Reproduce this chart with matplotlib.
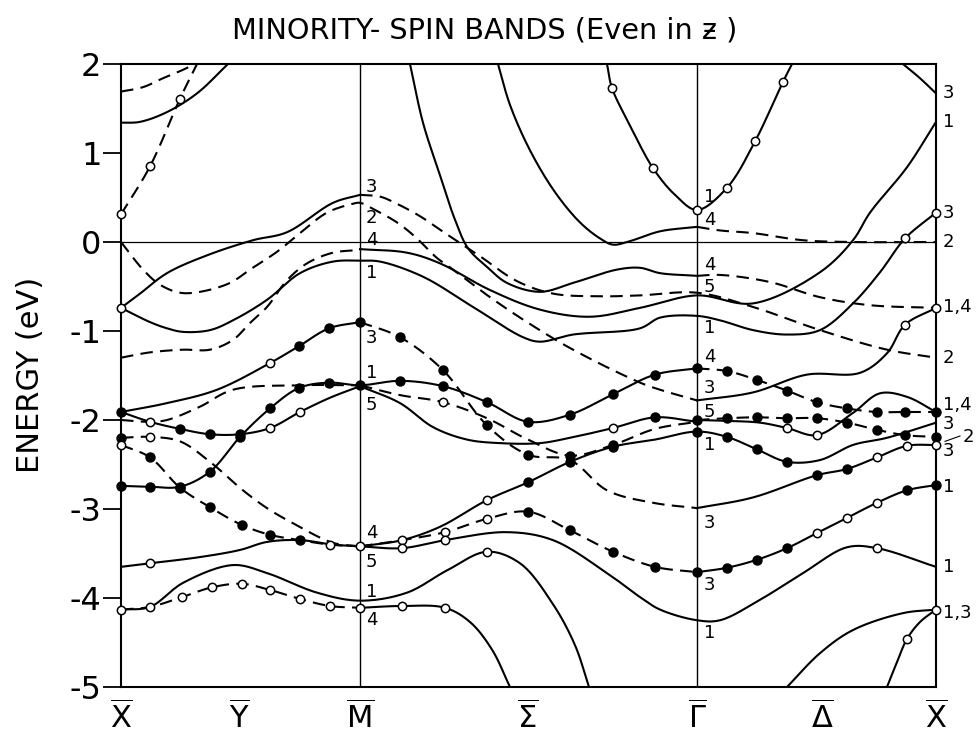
import numpy as np
import matplotlib
matplotlib.use("Agg")
import matplotlib.pyplot as plt

plt.rcParams["mathtext.fontset"] = "dejavusans"

# symmetry points along the path (arbitrary path-length units)
sym_k = [0.0, 1.18, 2.39, 4.07, 5.76, 7.01, 8.15]
sym_lab = [r"$\overline{\mathrm{X}}$", r"$\overline{\mathrm{Y}}$", r"$\overline{\mathrm{M}}$",
           r"$\overline{\Sigma}$", r"$\overline{\Gamma}$", r"$\overline{\Delta}$",
           r"$\overline{\mathrm{X}}$"]
k_M, k_G = 2.39, 5.76

# ---- bands (k, E in eV) ----
b01_k = [0, 0.22, 0.42, 0.61, 0.74]
b01_e = [1.69, 1.74, 1.84, 1.93, 2.0]
b02_k = [0, 0.19, 0.46, 0.76, 1.07]
b02_e = [1.34, 1.35, 1.46, 1.67, 2.0]
b03_k = [0, 0.29, 0.59, 0.76]
b03_e = [0.31, 0.85, 1.61, 2.0]
b04_k = [0, 0.19, 0.46, 0.86, 1.32, 1.66, 2.12, 2.39]
b04_e = [-0.74, -0.58, -0.35, -0.15, 0.02, 0.11, 0.44, 0.53]
b05_k = [2.39, 2.59, 2.74, 2.99, 3.24, 3.59, 3.96, 4.32, 4.79, 5.19, 5.76, 6.32, 6.99, 7.66, 8.15]
b05_e = [0.53, 0.51, 0.44, 0.29, 0.10, -0.16, -0.44, -0.58, -0.61, -0.60, -0.57, -0.73, -0.99, -1.21, -1.30]
b06_k = [0, 0.22, 0.39, 0.59, 0.79, 1.09, 1.29, 1.56, 1.79, 2.06, 2.32, 2.39, 2.54, 2.76, 2.94,
         3.16, 3.26, 3.69, 4.06, 4.52, 5.19, 5.39, 5.76]
b06_e = [0, -0.31, -0.48, -0.57, -0.56, -0.46, -0.31, -0.11, 0.10, 0.33, 0.43, 0.44, 0.36, 0.22, 0.06,
         -0.18, -0.26, -0.62, -0.90, -1.21, -1.58, -1.66, -1.78]
b07_k = [5.76, 6.32, 6.86, 7.39, 7.66, 7.84, 8.15]
b07_e = [-1.78, -1.69, -1.49, -1.47, -1.25, -0.93, -0.74]
b08_k = [0, 0.29, 0.46, 0.62, 0.89, 1.12, 1.46, 1.79, 2.12, 2.39, 2.59, 3.02, 3.52, 4.02, 4.19, 4.52,
         5.19, 5.39, 5.76, 5.99, 6.32, 6.66, 6.99, 7.32, 7.59, 7.84, 8.15]
b08_e = [-0.74, -0.90, -0.97, -1.01, -0.99, -0.88, -0.65, -0.35, -0.22, -0.21, -0.22, -0.39, -0.73,
         -1.07, -1.12, -1.04, -0.97, -0.85, -0.83, -0.88, -0.99, -1.04, -0.99, -0.69, -0.34, 0.04, 0.33]
b09_k = [0, 0.29, 0.62, 0.89, 1.12, 1.29, 1.46, 1.66, 1.86, 2.12, 2.39]
b09_e = [-1.30, -1.24, -1.21, -1.21, -1.10, -0.91, -0.73, -0.43, -0.24, -0.12, -0.09]
b10_k = [2.39, 2.86, 3.19, 3.69, 4.19, 4.69, 5.19, 5.76, 6.32, 6.99, 7.32, 7.49, 7.86, 8.15]
b10_e = [-0.08, -0.12, -0.24, -0.54, -0.76, -0.84, -0.74, -0.60, -0.69, -0.34, 0.02, 0.33, 0.84, 1.35]
b11_k = [2.89, 3.02, 3.19, 3.34, 3.47, 3.66, 3.86, 4.19, 4.52, 4.96, 5.19, 5.39, 5.76]
b11_e = [2.0, 1.34, 0.75, 0.25, -0.07, -0.28, -0.46, -0.56, -0.46, -0.31, -0.29, -0.35, -0.38]
b12_k = [5.76, 5.99, 6.49, 6.99, 7.49, 8.15]
b12_e = [-0.38, -0.37, -0.45, -0.62, -0.71, -0.74]
b13_k = [3.77, 3.89, 4.09, 4.34, 4.59, 4.79, 4.92, 5.09, 5.39, 5.76]
b13_e = [2.0, 1.54, 1.03, 0.56, 0.22, 0.04, -0.03, 0.01, 0.12, 0.17]
b14_k = [5.76, 5.99, 6.32, 6.82, 7.32, 8.15]
b14_e = [0.17, 0.13, 0.10, 0.02, 0.0, 0.0]
b15_k = [4.86, 4.91, 5.09, 5.32, 5.54, 5.76, 6.06, 6.34, 6.62, 6.71]
b15_e = [2.0, 1.73, 1.31, 0.83, 0.53, 0.36, 0.61, 1.13, 1.80, 2.0]
b16_k = [7.82, 7.99, 8.15]
b16_e = [2.0, 1.84, 1.67]
b17_k = [0, 0.46, 0.96, 1.49, 1.78, 2.08, 2.39]
b17_e = [-1.91, -1.81, -1.66, -1.36, -1.17, -0.97, -0.90]
b18_k = [2.39, 2.79, 3.22, 3.66, 4.07, 4.49, 4.86, 5.32, 5.76]
b18_e = [-0.90, -1.07, -1.44, -2.06, -2.39, -2.45, -2.79, -2.93, -2.99]
b19_k = [0, 0.29, 0.59, 0.89, 1.19, 1.49, 1.78, 2.08, 2.39, 2.79, 3.22, 3.66, 4.07, 4.49, 4.92, 5.34, 5.76]
b19_e = [-2.74, -2.75, -2.75, -2.58, -2.19, -1.87, -1.64, -1.58, -1.61, -1.56, -1.62, -1.80, -2.02,
         -1.94, -1.71, -1.49, -1.42]
b20_k = [5.76, 6.06, 6.36, 6.66, 6.96, 7.26, 7.56, 7.84, 8.15]
b20_e = [-1.42, -1.45, -1.55, -1.67, -1.80, -1.87, -1.91, -1.91, -1.91]
b21_k = [0, 0.29, 0.59, 0.89, 1.19, 1.49, 1.79, 2.09, 2.39]
b21_e = [-1.91, -2.02, -2.10, -2.16, -2.16, -2.09, -1.91, -1.75, -1.62]
b22_k = [2.39, 2.79, 3.12, 3.46, 3.79, 4.19, 4.49, 4.92, 5.34, 5.76]
b22_e = [-1.62, -1.81, -2.08, -2.22, -2.26, -2.26, -2.20, -2.09, -1.97, -2.02]
b23_k = [0, 0.29, 0.46, 0.79, 1.12, 1.79, 2.39]
b23_e = [-2.0, -2.02, -2.0, -1.85, -1.66, -1.61, -1.61]
b24_k = [2.39, 2.79, 3.22, 3.66, 4.07, 4.49, 4.92, 5.34, 5.76]
b24_e = [-1.61, -1.72, -1.80, -1.98, -2.22, -2.40, -2.28, -2.10, -2.02]
b25_k = [5.76, 6.32, 6.96, 7.26, 7.56, 7.86, 8.15]
b25_e = [-2.99, -2.87, -2.62, -2.55, -2.42, -2.29, -2.28]
b26_k = [0, 0.29, 0.59, 0.89, 1.22, 1.46, 1.72, 2.12, 2.39]
b26_e = [-2.20, -2.19, -2.24, -2.47, -2.79, -2.99, -3.16, -3.38, -3.42]
b27_k = [0, 0.29, 0.59, 0.89, 1.21, 1.49, 1.79, 2.09, 2.39]
b27_e = [-2.28, -2.42, -2.76, -2.98, -3.18, -3.29, -3.35, -3.40, -3.42]
b28_k = [0, 0.29, 0.79, 1.19, 1.46, 1.79, 2.12, 2.39]
b28_e = [-3.65, -3.61, -3.54, -3.46, -3.37, -3.35, -3.40, -3.42]
b29_k = [2.39, 2.81, 3.19, 3.66, 4.07, 4.49, 4.92, 5.34, 5.76, 6.06, 6.36, 6.66, 6.99, 7.32, 7.66, 8.15]
b29_e = [-3.42, -3.35, -3.20, -2.90, -2.70, -2.47, -2.30, -2.22, -2.13, -2.19, -2.33, -2.47, -2.45,
         -2.28, -2.20, -2.03]
b30_k = [2.39, 2.81, 3.24, 3.66, 4.07, 4.49, 4.92, 5.34, 5.76]
b30_e = [-3.42, -3.35, -3.26, -3.11, -3.03, -3.24, -3.48, -3.65, -3.71]
b31_k = [5.76, 6.06, 6.36, 6.66, 6.96, 7.26, 7.56, 7.86, 8.15]
b31_e = [-3.71, -3.66, -3.57, -3.44, -3.27, -3.10, -2.93, -2.79, -2.73]
b32_k = [2.39, 2.81, 3.24, 3.86, 4.32, 4.86, 5.19, 5.39, 5.76, 5.99, 6.39, 6.82, 7.26, 7.56, 8.15]
b32_e = [-3.42, -3.44, -3.35, -3.26, -3.35, -3.72, -3.99, -4.13, -4.25, -4.25, -4.02, -3.72, -3.43,
         -3.44, -3.65]
b33_k = [0, 0.29, 0.62, 1.12, 1.46, 1.96, 2.39, 2.86, 3.26, 3.66, 3.99, 4.32, 4.54, 4.68]
b33_e = [-4.13, -4.10, -3.83, -3.63, -3.72, -3.94, -4.03, -3.94, -3.69, -3.48, -3.61, -4.07, -4.53, -5.0]
b34_k = [0, 0.29, 0.61, 0.91, 1.21, 1.49, 1.79, 2.09, 2.39]
b34_e = [-4.13, -4.10, -3.99, -3.88, -3.84, -3.91, -4.01, -4.09, -4.11]
b35_k = [2.39, 2.81, 3.24, 3.49, 3.71, 3.89]
b35_e = [-4.11, -4.09, -4.11, -4.27, -4.58, -5.0]
b36_k = [6.66, 6.99, 7.32, 7.82, 8.15]
b36_e = [-5.0, -4.62, -4.36, -4.17, -4.13]
b37_k = [7.66, 7.76, 7.86, 7.99, 8.15]
b37_e = [-5.0, -4.72, -4.46, -4.27, -4.13]
b38_k = [5.76, 6.06, 6.36, 6.66, 6.96, 7.26, 7.56, 7.84, 8.15]
b38_e = [-2.00, -1.98, -1.97, -1.98, -1.98, -2.03, -2.11, -2.17, -2.19]
b39_k = [5.76, 6.06, 6.39, 6.66, 6.96, 7.32, 7.59, 7.86, 8.15]
b39_e = [-2.0, -2.01, -2.03, -2.09, -2.17, -1.92, -1.70, -1.74, -1.91]

# computed points drawn as symbols
open_k = [0, 0.29, 0.59, 0, 7.84, 8.15, 7.84, 8.15, 4.91, 5.32, 5.76, 6.06, 6.34, 6.62,
          1.49, 1.49, 1.79, 4.92, 0.29, 3.22, 7.56, 7.86, 8.15, 0.29, 0, 2.09, 0.29, 3.66,
          2.81, 3.24, 3.66, 6.96, 7.26, 7.56, 2.81, 3.24, 7.56, 0, 0.29, 3.66,
          0.61, 0.91, 1.21, 1.49, 1.79, 2.09, 2.39, 2.81, 3.24, 8.15, 7.86, 6.66, 6.96, 2.39]
open_e = [0.31, 0.85, 1.61, -0.74, -0.93, -0.74, 0.04, 0.33, 1.73, 0.83, 0.36, 0.61, 1.13, 1.80,
          -1.36, -2.09, -1.91, -2.09, -2.02, -1.80, -2.42, -2.29, -2.28, -2.19, -2.28, -3.40, -3.61, -2.90,
          -3.35, -3.26, -3.11, -3.27, -3.10, -2.93, -3.44, -3.35, -3.44, -4.13, -4.10, -3.48,
          -3.99, -3.88, -3.84, -3.91, -4.01, -4.09, -4.11, -4.09, -4.11, -4.13, -4.46, -2.09, -2.17, -3.42]
filled_k = [0, 1.78, 2.08, 2.39, 2.79, 3.22, 3.66, 4.07,
            0, 0.29, 0.59, 0.89, 1.19, 1.49, 1.78, 2.08, 2.39, 2.79, 3.22, 3.66, 4.07, 4.49, 4.92, 5.34, 5.76,
            6.06, 6.36, 6.66, 6.96, 7.26, 7.56, 7.84, 8.15,
            0.59, 0.89, 1.19, 5.34, 4.49, 4.92, 6.96, 7.26, 0,
            0.29, 0.59, 0.89, 1.21, 1.49, 1.79,
            4.07, 4.49, 4.92, 5.76, 6.06, 6.36, 6.66,
            4.07, 4.49, 4.92, 5.34, 5.76, 6.06, 6.36, 6.66, 7.86, 8.15,
            5.76, 6.06, 6.36, 6.66, 6.96, 7.26, 7.56, 7.84, 8.15]
filled_e = [-1.91, -1.17, -0.97, -0.90, -1.07, -1.44, -2.06, -2.39,
            -2.74, -2.75, -2.75, -2.58, -2.19, -1.87, -1.64, -1.58, -1.61, -1.56, -1.62, -1.80, -2.02,
            -1.94, -1.71, -1.49, -1.42,
            -1.45, -1.55, -1.67, -1.80, -1.87, -1.91, -1.91, -1.91,
            -2.10, -2.16, -2.16, -1.97, -2.40, -2.28, -2.62, -2.55, -2.20,
            -2.42, -2.76, -2.98, -3.18, -3.29, -3.35,
            -2.70, -2.47, -2.30, -2.13, -2.19, -2.33, -2.47,
            -3.03, -3.24, -3.48, -3.65, -3.71, -3.66, -3.57, -3.44, -2.79, -2.73,
            -2.00, -1.98, -1.97, -1.98, -1.98, -2.03, -2.11, -2.17, -2.19]

# representation labels at M, Gamma and right-hand X
lab_M = [("3", 0.62), ("2", 0.27), ("4", 0.02), ("1", -0.35), ("3", -1.08), ("1", -1.47),
         ("5", -1.83), ("4", -3.27), ("5", -3.60), ("1", -3.93), ("4", -4.25)]
lab_G = [("1", 0.51), ("4", 0.25), ("4", -0.26), ("5", -0.51), ("1", -0.97), ("4", -1.29),
         ("3", -1.64), ("5", -1.91), ("1", -2.28), ("3", -3.16), ("3", -3.85), ("1", -4.39)]
lab_X = [("3", 1.67), ("1", 1.35), ("3", 0.33), ("2", 0.0), ("1,4", -0.73), ("2", -1.30),
         ("1,4", -1.83), ("3", -2.05), ("3", -2.35), ("1", -2.75), ("1", -3.65), ("1,3", -4.17)]

solid = "-"
dash = (0, (6, 3.5))
bands = [(b01_k, b01_e, dash), (b02_k, b02_e, solid), (b03_k, b03_e, dash), (b04_k, b04_e, solid),
         (b05_k, b05_e, dash), (b06_k, b06_e, dash), (b07_k, b07_e, solid), (b08_k, b08_e, solid),
         (b09_k, b09_e, dash), (b10_k, b10_e, solid), (b11_k, b11_e, solid), (b12_k, b12_e, dash),
         (b13_k, b13_e, solid), (b14_k, b14_e, dash), (b15_k, b15_e, solid), (b16_k, b16_e, solid),
         (b17_k, b17_e, solid), (b18_k, b18_e, dash), (b19_k, b19_e, solid), (b20_k, b20_e, dash),
         (b21_k, b21_e, solid), (b22_k, b22_e, solid), (b23_k, b23_e, dash), (b24_k, b24_e, dash),
         (b25_k, b25_e, solid), (b26_k, b26_e, dash), (b27_k, b27_e, dash), (b28_k, b28_e, solid),
         (b29_k, b29_e, solid), (b30_k, b30_e, dash), (b31_k, b31_e, solid), (b32_k, b32_e, solid),
         (b33_k, b33_e, solid), (b34_k, b34_e, dash), (b35_k, b35_e, solid), (b36_k, b36_e, solid),
         (b37_k, b37_e, solid), (b38_k, b38_e, dash), (b39_k, b39_e, solid)]


def smooth(k, e, n=16):
    # centripetal Catmull-Rom through the read points, only for drawing
    p = np.column_stack([np.asarray(k, float) * 100.0, np.asarray(e, float) * 89.0])
    if len(p) < 3:
        return p[:, 0] / 100.0, p[:, 1] / 89.0
    p = np.vstack([2 * p[0] - p[1], p, 2 * p[-1] - p[-2]])
    out = [p[1]]
    for i in range(1, len(p) - 2):
        p0, p1, p2, p3 = p[i - 1], p[i], p[i + 1], p[i + 2]
        t1 = max(np.linalg.norm(p1 - p0), 1e-6) ** 0.5
        t2 = t1 + max(np.linalg.norm(p2 - p1), 1e-6) ** 0.5
        t3 = t2 + max(np.linalg.norm(p3 - p2), 1e-6) ** 0.5
        t = np.linspace(t1, t2, n)[1:, None]
        a1 = (t1 - t) / t1 * p0 + t / t1 * p1
        a2 = (t2 - t) / (t2 - t1) * p1 + (t - t1) / (t2 - t1) * p2
        a3 = (t3 - t) / (t3 - t2) * p2 + (t - t2) / (t3 - t2) * p3
        q1 = (t2 - t) / t2 * a1 + t / t2 * a2
        q2 = (t3 - t) / (t3 - t1) * a2 + (t - t1) / (t3 - t1) * a3
        c = (t2 - t) / (t2 - t1) * q1 + (t - t1) / (t2 - t1) * q2
        out.extend(c)
    out = np.array(out)
    return out[:, 0] / 100.0, out[:, 1] / 89.0


fig = plt.figure(figsize=(9.77, 7.35), dpi=100)
ax = fig.add_axes([121 / 977, 1 - 687 / 735, 815 / 977, 623 / 735])
ax.set_xlim(0, 8.15)
ax.set_ylim(-5, 2)

ax.axhline(0, color="k", lw=0.9, zorder=1)
for x in (k_M, k_G):
    ax.axvline(x, color="k", lw=1.0, zorder=1)

for k, e, ls in bands:
    sk, se = smooth(k, e)
    ax.plot(sk, se, color="k", lw=1.5, ls=ls, zorder=2)

ax.plot(filled_k, filled_e, "o", ms=6.5, color="k", clip_on=False, zorder=4)
ax.plot(open_k, open_e, "o", ms=6, mfc="white", mec="k", mew=1.1, clip_on=False, zorder=5)

for t, e in lab_M:
    ax.text(k_M + 0.06, e, t, fontsize=13, va="center", ha="left")
for t, e in lab_G:
    ax.text(k_G + 0.07, e, t, fontsize=13, va="center", ha="left")
for t, e in lab_X:
    ax.text(8.22, e, t, fontsize=13, va="center", ha="left", clip_on=False)
ax.text(8.42, -2.19, "2", fontsize=13, va="center", ha="left", clip_on=False)
ax.plot([8.24, 8.39], [-2.24, -2.18], color="k", lw=0.8, clip_on=False)

for s in ax.spines.values():
    s.set_linewidth(1.5)
ax.set_yticks(range(-5, 3))
ax.set_yticklabels(["-5", "-4", "-3", "-2", "-1", "0", "1", "2"])
ax.tick_params(axis="y", direction="out", length=13, width=1.3, labelsize=23, pad=1)
ax.set_xticks(sym_k)
ax.set_xticklabels(sym_lab)
ax.tick_params(axis="x", length=0, labelsize=22, pad=10)

fig.text(0.031, 0.49, "ENERGY (eV)", rotation=90, fontsize=22, ha="center", va="center")
fig.text(485 / 977, 1 - 30 / 735, "MINORITY- SPIN BANDS (Even in \u01b6 )", fontsize=20.7,
         ha="center", va="center")

fig.savefig("out.png", dpi=100)
